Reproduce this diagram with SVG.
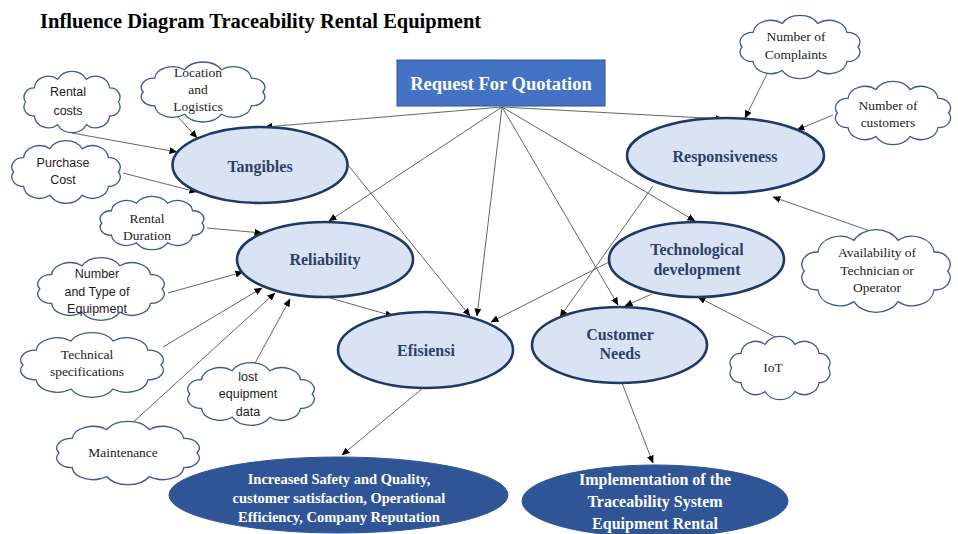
<svg xmlns="http://www.w3.org/2000/svg" width="958" height="534" viewBox="0 0 958 534">
<style>
.title{font-family:"Liberation Serif",serif;font-weight:bold;font-size:20.5px;fill:#000}
.rfq{fill:#4472C4;stroke:#2F528F;stroke-width:1}
.rfqt{font-family:"Liberation Serif",serif;font-weight:bold;font-size:18.5px;fill:#fff;text-anchor:middle}
.node{fill:#DAE3F3;stroke:#1F3864;stroke-width:2.6}
.nt{font-family:"Liberation Serif",serif;font-weight:bold;font-size:16px;fill:#2E3F66;text-anchor:middle}
.out{fill:#2F5597;stroke:#2F5597;stroke-width:1}
.ot{font-family:"Liberation Serif",serif;font-weight:bold;font-size:14.5px;fill:#fff;text-anchor:middle}
.ot2{font-family:"Liberation Serif",serif;font-weight:bold;font-size:16px;fill:#fff;text-anchor:middle}
.cloud{fill:#fff;stroke:#3E5A8A;stroke-width:1.3}
.cs{font-family:"Liberation Sans",sans-serif;font-size:12.5px;fill:#222;text-anchor:middle}
.cr{font-family:"Liberation Serif",serif;font-size:13.5px;fill:#222;text-anchor:middle}
.ln{stroke:#4a4a4a;stroke-width:0.85;fill:none;marker-end:url(#ah)}
</style>
<defs>
<marker id="ah" markerWidth="8" markerHeight="7" refX="7.5" refY="3.5" orient="auto" markerUnits="userSpaceOnUse">
<path d="M0,0 L8,3.5 L0,7 z" fill="#000"/>
</marker>
<path id="cl" vector-effect="non-scaling-stroke" d="M-46,0 A10,10 0 0,1 -37.2,-15.3 A14,14 0 0,1 -14.2,-24.7 A16,16 0 0,1 14.2,-24.7 A14,14 0 0,1 37.2,-15.3 A10,10 0 0,1 46,0 A10,10 0 0,1 37.2,15.3 A14,14 0 0,1 14.2,24.7 A16,16 0 0,1 -14.2,24.7 A14,14 0 0,1 -37.2,15.3 A10,10 0 0,1 -46,0 Z"/>
</defs>
<rect width="958" height="534" fill="#fff"/>
<text class="title" x="40" y="28">Influence Diagram Traceability Rental Equipment</text>

<g id="connectors">
<line class="ln" x1="502" y1="107" x2="265" y2="127"/>
<line class="ln" x1="502" y1="107" x2="723" y2="119"/>
<line class="ln" x1="502" y1="107" x2="329" y2="221"/>
<line class="ln" x1="502" y1="107" x2="477" y2="316"/>
<line class="ln" x1="502" y1="107" x2="618" y2="305"/>
<line class="ln" x1="502" y1="107" x2="695" y2="221"/>
<line class="ln" x1="348" y1="165" x2="470" y2="316"/>
<line class="ln" x1="653" y1="186" x2="560" y2="317"/>
<line class="ln" x1="609" y1="262" x2="491" y2="322"/>
<line class="ln" x1="652" y1="294" x2="625" y2="306"/>
<line class="ln" x1="330" y1="298" x2="393" y2="316"/>
<line class="ln" x1="423" y1="388" x2="342" y2="455"/>
<line class="ln" x1="622" y1="383" x2="653" y2="463"/>
<line class="ln" x1="72" y1="133" x2="177" y2="152"/>
<line class="ln" x1="178" y1="117" x2="197" y2="138"/>
<line class="ln" x1="123" y1="173" x2="197" y2="192"/>
<line class="ln" x1="207" y1="228" x2="262" y2="233"/>
<line class="ln" x1="168" y1="293" x2="243" y2="272"/>
<line class="ln" x1="163" y1="347" x2="262" y2="288"/>
<line class="ln" x1="130" y1="425" x2="275" y2="293"/>
<line class="ln" x1="254" y1="365" x2="290" y2="299"/>
<line class="ln" x1="768" y1="72" x2="745" y2="118"/>
<line class="ln" x1="833" y1="115" x2="797" y2="130"/>
<line class="ln" x1="873" y1="232" x2="773" y2="197"/>
<line class="ln" x1="777" y1="338" x2="698" y2="297"/>
</g>

<g id="rfq">
<rect class="rfq" x="397" y="60" width="208" height="46"/>
<text class="rfqt" x="501" y="90">Request For Quotation</text>
</g>

<g id="tangibles">
<ellipse class="node" cx="260" cy="165" rx="87.5" ry="38"/>
<text class="nt" x="260" y="172">Tangibles</text>
</g>
<g id="reliability">
<ellipse class="node" cx="325" cy="259.5" rx="88" ry="37.5"/>
<text class="nt" x="325" y="265">Reliability</text>
</g>
<g id="efisiensi">
<ellipse class="node" cx="425.5" cy="350" rx="87.5" ry="38"/>
<text class="nt" x="426" y="356">Efisiensi</text>
</g>
<g id="responsiveness">
<ellipse class="node" cx="725.5" cy="155.5" rx="98.5" ry="37.5"/>
<text class="nt" x="725" y="162">Responsiveness</text>
</g>
<g id="technological">
<ellipse class="node" cx="696.5" cy="259.5" rx="87.5" ry="37.5"/>
<text class="nt" x="697" y="255">Technological</text>
<text class="nt" x="697" y="275">development</text>
</g>
<g id="customer-needs">
<ellipse class="node" cx="619.5" cy="345" rx="87.5" ry="38"/>
<text class="nt" x="620" y="340">Customer</text>
<text class="nt" x="620" y="359">Needs</text>
</g>

<g id="increased">
<ellipse class="out" cx="338.5" cy="495" rx="169.5" ry="38"/>
<text class="ot" x="339" y="484">Increased  Safety and Quality,</text>
<text class="ot" x="339" y="503">customer satisfaction, Operational</text>
<text class="ot" x="339" y="522">Efficiency, Company Reputation</text>
</g>
<g id="implementation">
<ellipse class="out" cx="655" cy="501" rx="133" ry="36"/>
<text class="ot2" x="655" y="485">Implementation  of the</text>
<text class="ot2" x="655" y="507">Traceability System</text>
<text class="ot2" x="655" y="529">Equipment  Rental</text>
</g>

<g id="c-rental-costs">
<use href="#cl" class="cloud" transform="translate(72,102) scale(1.01,0.92)"/>
<text class="cs" x="68" y="96">Rental</text>
<text class="cs" x="68" y="115">costs</text>
</g>
<g id="c-location">
<use href="#cl" class="cloud" transform="translate(203,92) scale(1.3,0.9)"/>
<text class="cr" x="198" y="77">Location</text>
<text class="cr" x="198" y="94">and</text>
<text class="cr" x="198" y="111">Logistics</text>
</g>
<g id="c-purchase">
<use href="#cl" class="cloud" transform="translate(66,172) scale(1.14,0.94)"/>
<text class="cs" x="63" y="167">Purchase</text>
<text class="cs" x="63" y="184">Cost</text>
</g>
<g id="c-rental-duration">
<use href="#cl" class="cloud" transform="translate(152,223) scale(1.09,0.8)"/>
<text class="cr" x="147" y="223">Rental</text>
<text class="cr" x="147" y="240">Duration</text>
</g>
<g id="c-number-type">
<use href="#cl" class="cloud" transform="translate(101,289) scale(1.33,0.94)"/>
<text class="cs" x="97" y="278">Number</text>
<text class="cs" x="97" y="296">and Type of</text>
<text class="cs" x="97" y="313">Equipment</text>
</g>
<g id="c-technical">
<use href="#cl" class="cloud" transform="translate(92,365) scale(1.5,0.97)"/>
<text class="cr" x="87" y="359">Technical</text>
<text class="cr" x="87" y="376">specifications</text>
</g>
<g id="c-lost">
<use href="#cl" class="cloud" transform="translate(251,394) scale(1.33,0.94)"/>
<text class="cs" x="248" y="381">lost</text>
<text class="cs" x="248" y="398">equipment</text>
<text class="cs" x="248" y="416">data</text>
</g>
<g id="c-maintenance">
<use href="#cl" class="cloud" transform="translate(128,453) scale(1.5,0.95)"/>
<text class="cr" x="123" y="457">Maintenance</text>
</g>
<g id="c-complaints">
<use href="#cl" class="cloud" transform="translate(800,47) scale(1.26,0.95)"/>
<text class="cr" x="796" y="41">Number of</text>
<text class="cr" x="796" y="59">Complaints</text>
</g>
<g id="c-customers">
<use href="#cl" class="cloud" transform="translate(893,113) scale(1.21,0.95)"/>
<text class="cr" x="888" y="110">Number of</text>
<text class="cr" x="888" y="127">customers</text>
</g>
<g id="c-availability">
<use href="#cl" class="cloud" transform="translate(876,271) scale(1.56,1.24)"/>
<text class="cr" x="877" y="257">Availability  of</text>
<text class="cr" x="877" y="275">Technician  or</text>
<text class="cr" x="877" y="292">Operator</text>
</g>
<g id="c-iot">
<use href="#cl" class="cloud" transform="translate(780,368) scale(1.05,0.95)"/>
<text class="cr" x="773" y="372">IoT</text>
</g>
</svg>
